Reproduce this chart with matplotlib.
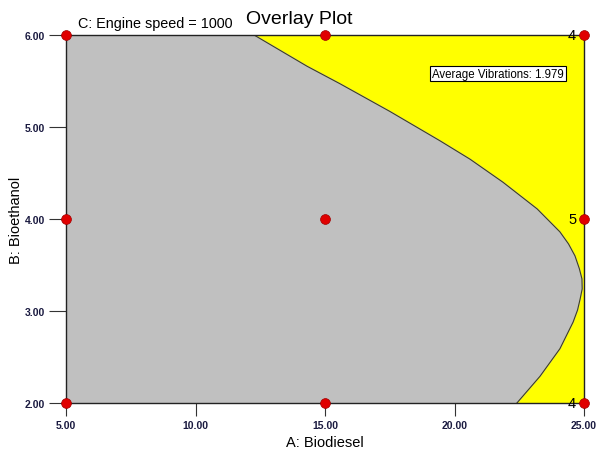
import matplotlib.pyplot as plt

plt.rcParams['font.family'] = ['Liberation Sans', 'DejaVu Sans']

# design points (A: Biodiesel, B: Bioethanol)
design_a = [5, 15, 25, 5, 15, 25, 5, 15, 25]
design_b = [2, 2, 2, 4, 4, 4, 6, 6, 6]
# replicate counts shown next to points
rep_a = [25, 25, 25]
rep_b = [6, 4, 2]
rep_labels = ["4", "5", "4"]

# boundary of the grey region
edge_a = [12.26, 14.31, 15.58, 17.50, 19.44, 20.60, 21.87, 23.19, 24.07,
          24.40, 24.65, 24.82, 24.92, 24.93, 24.85, 24.75, 24.58, 24.07,
          23.30, 22.41]
edge_b = [6.00, 5.66, 5.47, 5.17, 4.85, 4.65, 4.40, 4.11, 3.86,
          3.73, 3.60, 3.46, 3.35, 3.24, 3.13, 3.01, 2.88, 2.59,
          2.29, 2.00]

x_ticks = [5, 10, 15, 20, 25]
y_ticks = [2, 3, 4, 5, 6]

fig = plt.figure(figsize=(5.98, 4.52), dpi=100)
ax = fig.add_axes([66 / 598, 48 / 452, 518 / 598, 368 / 452])
ax.set_facecolor('#ffff00')

poly_a = [5, 5] + edge_a
poly_b = [2, 6] + edge_b
ax.fill(poly_a, poly_b, color='#c0c0c0', zorder=1)
ax.plot(edge_a, edge_b, color='#404020', lw=0.8, zorder=2)

ax.scatter(design_a, design_b, s=50, color='#e00000', edgecolors='#a00000',
           linewidths=0.5, zorder=5, clip_on=False, marker='o')
for a, b, t in zip(rep_a, rep_b, rep_labels):
    ax.text(a - 0.3, b, t, ha='right', va='center', fontsize=10.5, zorder=6)

ax.set_xlim(5, 25)
ax.set_ylim(2, 6)
ax.set_xticks(x_ticks)
ax.set_yticks(y_ticks)
ax.set_xticklabels([f"{v:.2f}" for v in x_ticks], fontsize=7.5, fontweight='bold', color='#1a1a40')
ax.set_yticklabels([f"{v:.2f}" for v in y_ticks], fontsize=7.5, fontweight='bold', color='#1a1a40')
ax.tick_params(axis='x', direction='out', length=9, width=0.8, pad=3, color='#333333')
ax.tick_params(axis='y', direction='out', length=12, width=0.8, pad=3, color='#333333')
for s in ax.spines.values():
    s.set_color('#222222')
    s.set_linewidth(1.0)

fig.text(325 / 598, 1 - 443 / 452, "A: Biodiesel", ha='center', va='center', fontsize=10.5)
fig.text(16 / 598, 1 - 220 / 452, "B: Bioethanol", ha='center', va='center',
         rotation=90, fontsize=10.5)

fig.text(0.5, 1 - 20 / 452, "Overlay Plot", ha='center', va='center', fontsize=14)
fig.text(78 / 598, 1 - 24 / 452, "C: Engine speed = 1000", ha='left', va='center', fontsize=10.4)

ax.text(0.961, 0.895, "Average Vibrations: 1.979", transform=ax.transAxes,
        ha='right', va='center', fontsize=8.3, zorder=7,
        bbox=dict(boxstyle='square,pad=0.15', fc='white', ec='black', lw=0.8))

fig.savefig("out.png", dpi=100)
